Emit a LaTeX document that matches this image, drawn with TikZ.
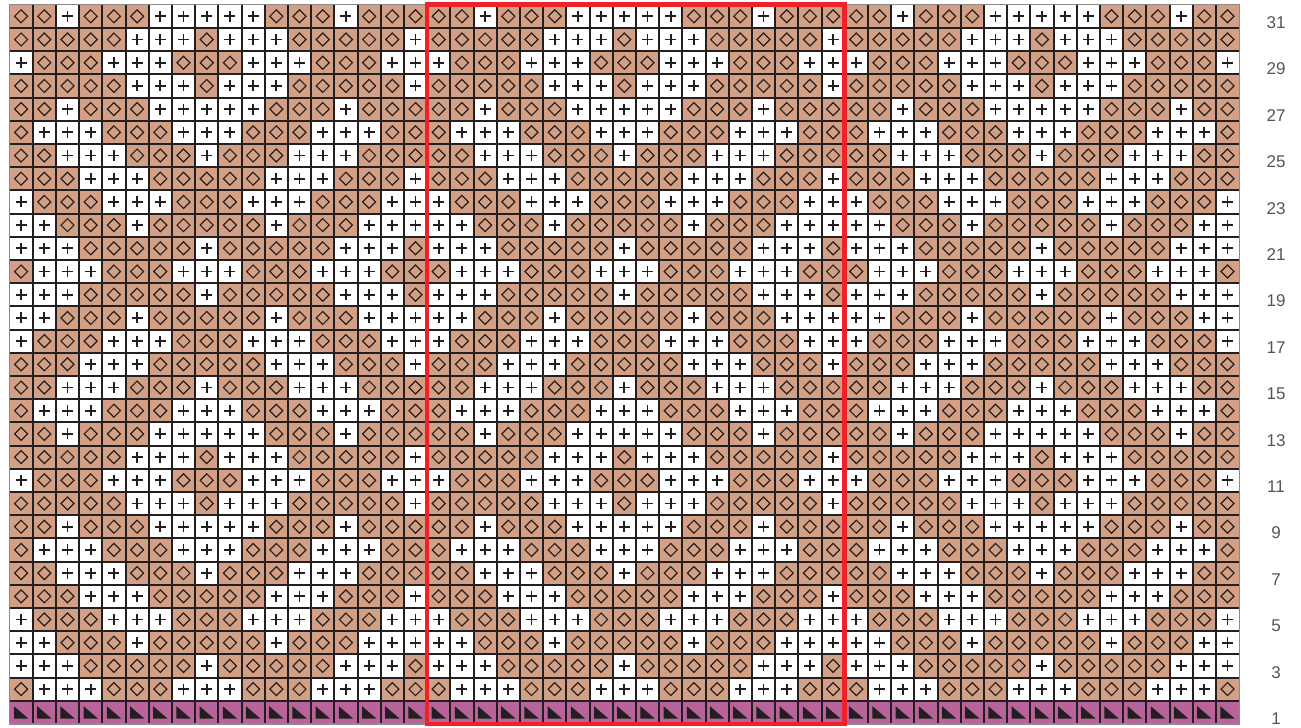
\documentclass[tikz,border=0pt]{standalone}
\usepackage{fontspec}
\setmainfont{Liberation Sans}
\definecolor{stBrown}{HTML}{D4A085}
\definecolor{stPurple}{HTML}{B8649B}
\definecolor{gridk}{HTML}{231F20}
\definecolor{redbox}{HTML}{EE2229}
\definecolor{labgray}{HTML}{555555}
\definecolor{framegray}{HTML}{8A8A8A}
\def\patA{1,1,0,1,1,1,0,0,0,0,0,1,1,1,0,1,1,1}
\def\patB{1,1,1,1,1,0,0,0,1,0,0,0,1,1,1,1,1,0}
\def\patC{0,1,1,1,0,0,0,1,1,1,0,0,0,1,1,1,0,0}
\def\patE{1,0,0,0,1,1,1,0,0,0,1,1,1,0,0,0,1,1}
\def\patF{1,1,0,0,0,1,1,1,0,1,1,1,0,0,0,1,1,1}
\def\patG{1,1,1,0,0,0,1,1,1,1,1,0,0,0,1,1,1,0}
\def\patH{0,0,1,1,1,0,1,1,1,1,1,0,1,1,1,0,0,0}
\def\patI{0,0,0,1,1,1,1,1,0,1,1,1,1,1,0,0,0,1}
\begin{document}
\begin{tikzpicture}[x=1pt,y=-1pt,
  gridline/.style={line width=2pt, draw=gridk},
  frameline/.style={line width=1.2pt, draw=framegray},
  diam/.style={line width=1.2pt, draw=gridk, line join=miter},
  plusmark/.style={line width=1.7pt, draw=gridk},
  trimark/.style={fill=gridk},
  repeatbox/.style={draw=redbox, line width=4.5pt},
  rowlabel/.style={text=labgray, font=\fontsize{17}{17}\selectfont, inner sep=0pt}]
\useasboundingbox (0,0) rectangle (1301,728);
\fill[white] (0,0) rectangle (1301,728);
\def\X{9.5}\def\Y{4.7}\def\S{23.2}
% row 1
\foreach \c in {0,...,52} {
  \fill[stPurple] ({\X+\c*\S},{\Y+30*\S}) rectangle +(\S,\S);
  \fill[trimark] ({\X+\c*\S+4.5},{\Y+30*\S+5.5}) -- ++(0,12.5) -- ++(14.5,0) -- cycle;
}
% rows 2..31
\foreach \r/\p in {31/A,30/B,29/C,28/B,27/A,26/E,25/F,24/G,23/C,22/H,21/I,20/E,19/I,18/H,17/C,16/G,15/F,14/E,13/A,12/B,11/C,10/B,9/A,8/E,7/F,6/G,5/C,4/H,3/I,2/E} {
  \edef\curpat{\csname pat\p\endcsname}
  \foreach \k in {0,1,2} {
    \foreach[count=\j from 0] \v in \curpat {
      \pgfmathtruncatemacro\col{\k*18+\j}
      \ifnum\col<53
        \pgfmathsetmacro\cx{\X+\col*\S+\S/2}
        \pgfmathsetmacro\cy{\Y+(31-\r)*\S+\S/2}
        \ifnum\v=1
          \fill[stBrown] ({\cx-\S/2},{\cy-\S/2}) rectangle +(\S,\S);
          \draw[diam] ({\cx-6.5},\cy) -- ++(6.5,-6.5) -- ++(6.5,6.5) -- ++(-6.5,6.5) -- cycle;
        \else
          \draw[plusmark] ({\cx-5.5},\cy) -- +(11,0);
          \draw[plusmark] (\cx,{\cy-5.5}) -- +(0,11);
        \fi
      \fi
    }
  }
}
% grid lines
\foreach \c in {1,...,52} \draw[gridline] ({\X+\c*\S},\Y) -- ({\X+\c*\S},{\Y+31*\S});
\foreach \r in {1,...,30} \draw[gridline] (\X,{\Y+\r*\S}) -- ({\X+53*\S},{\Y+\r*\S});
\draw[frameline] (\X,\Y) rectangle ({\X+53*\S},{\Y+31*\S});
% repeat box
\draw[repeatbox] ({\X+18*\S},\Y) rectangle ({\X+36*\S},{\Y+31*\S});
% row labels
\foreach \r in {1,3,...,31} \node[rowlabel] (lab\r) at (1276,{\Y+(31-\r)*\S+\S/2+6.3}) {\r};
\end{tikzpicture}
\end{document}
